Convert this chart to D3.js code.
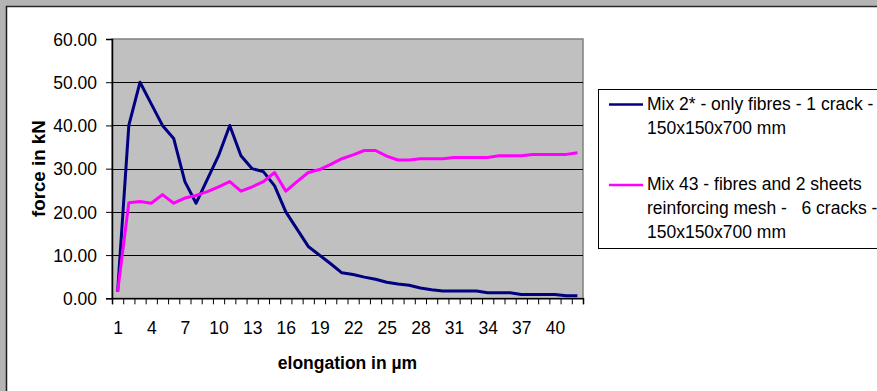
<!DOCTYPE html>
<html>
<head>
<meta charset="utf-8">
<script src="https://cdn.jsdelivr.net/npm/d3@7"></script>
<style>
  html, body { margin: 0; padding: 0; background: #b4b4b4; }
  svg { display: block; font-family: "Liberation Sans", Arial, sans-serif; }
</style>
</head>
<body>
<svg id="chart" width="877" height="391"></svg>
<script>
// Elongation steps (categories)
const categories = [1,2,3,4,5,6,7,8,9,10,11,12,13,14,15,16,17,18,19,20,21,
                    22,23,24,25,26,27,28,29,30,31,32,33,34,35,36,37,38,39,40,41,42];
// Labelled categories on the x axis
const xTickLabels = [1,4,7,10,13,16,19,22,25,28,31,34,37,40];
// Force values, kN
const yTicks = [0,10,20,30,40,50,60];

const mix2 = [1.5,40,50,45,40,37,27,22,27.5,33,40,33,30,29.3,26,20,16,12,10,8,5.9,
              5.5,4.9,4.4,3.7,3.3,3.0,2.4,2.0,1.7,1.7,1.7,1.7,1.3,1.3,1.3,0.9,0.9,0.9,0.9,0.6,0.6];
const mix43 = [1.5,22.1,22.4,22,24,22,23.2,23.8,24.7,25.8,27,24.8,25.8,27,29.1,24.8,27,29.1,29.8,31,32.3,
               33.2,34.2,34.2,32.9,32,32,32.3,32.3,32.3,32.6,32.6,32.6,32.6,33,33,33,33.3,33.3,33.3,33.3,33.7];

const seriesNames = [
  ["Mix 2* - only fibres - 1 crack -", "150x150x700 mm"],
  ["Mix 43 - fibres and 2 sheets", "reinforcing mesh -   6 cracks -", "150x150x700 mm"]
];
const seriesColors = ["#000080", "#ff00ff"];

const FONT = 17.5;   // text size
const STRETCH = 1.07; // glyphs are drawn slightly taller than wide

const svg = d3.select("#chart");

// white chart area inside the grey window frame
svg.append("rect").attr("x", 6).attr("y", 6).attr("width", 877).attr("height", 391)
  .attr("fill", "#ffffff");
svg.append("line").attr("x1", 6).attr("x2", 877).attr("y1", 6.5).attr("y2", 6.5)
  .attr("stroke", "#2a2a2a").attr("stroke-width", 1.5);
svg.append("line").attr("x1", 6.5).attr("x2", 6.5).attr("y1", 6).attr("y2", 391)
  .attr("stroke", "#1a1a1a").attr("stroke-width", 1.5);

const plot = { left: 112, right: 583, top: 39, bottom: 298.3 };

const x = d3.scaleLinear().domain([categories[0] - 0.5, categories[categories.length - 1] + 0.5])
  .range([plot.left, plot.right]);
const y = d3.scaleLinear().domain([0, 60]).range([plot.bottom, plot.top]);

// plot area
svg.append("rect")
  .attr("x", plot.left).attr("y", plot.top)
  .attr("width", plot.right - plot.left).attr("height", plot.bottom - plot.top)
  .attr("fill", "#c0c0c0").attr("stroke", "#808080").attr("stroke-width", 1.5);

// horizontal gridlines
svg.append("g").selectAll("line").data(yTicks.filter(d => d > 0 && d < 60)).join("line")
  .attr("x1", plot.left).attr("x2", plot.right)
  .attr("y1", d => Math.round(y(d)) + 0.5).attr("y2", d => Math.round(y(d)) + 0.5)
  .attr("stroke", "#000").attr("stroke-width", 1);

// y axis
const yAxis = svg.append("g").attr("transform", `translate(${plot.left},0)`)
  .call(d3.axisLeft(y).tickValues(yTicks).tickFormat(d3.format(".2f")).tickSize(6).tickPadding(9));
yAxis.select(".domain").attr("stroke", "#000").attr("stroke-width", 1.5);
yAxis.selectAll(".tick line").attr("stroke", "#000");
yAxis.selectAll(".tick text")
  .attr("font-size", FONT).attr("fill", "#000")
  .attr("font-family", "Liberation Sans, Arial, sans-serif")
  .attr("dy", "0.33em")
  .attr("transform", `scale(1,${STRETCH})`);

// x axis: tick marks between categories
const boundaries = categories.map(c => c - 0.5).concat([categories[categories.length - 1] + 0.5]);
const xAxisTicks = svg.append("g").attr("transform", `translate(0,${plot.bottom})`)
  .call(d3.axisBottom(x).tickValues(boundaries).tickFormat("").tickSize(6));
xAxisTicks.select(".domain").attr("stroke", "#000").attr("stroke-width", 1.5);
xAxisTicks.selectAll(".tick line").attr("stroke", "#000");

// x axis: category labels
const xAxisLabels = svg.append("g").attr("transform", `translate(0,${plot.bottom})`)
  .call(d3.axisBottom(x).tickValues(xTickLabels).tickFormat(d3.format("d")).tickSize(0));
xAxisLabels.select(".domain").remove();
xAxisLabels.selectAll(".tick text")
  .attr("font-size", FONT).attr("fill", "#000")
  .attr("font-family", "Liberation Sans, Arial, sans-serif")
  .attr("dy", null).attr("y", 35.8 / STRETCH)
  .attr("transform", `scale(1,${STRETCH})`);

// axis titles
svg.append("text")
  .attr("transform", `translate(${(plot.left + plot.right) / 2},368.5) scale(1,${STRETCH})`)
  .attr("text-anchor", "middle").attr("font-weight", "bold").attr("font-size", FONT)
  .text("elongation in µm");
svg.append("text")
  .attr("transform", `translate(45,${(plot.top + plot.bottom) / 2}) rotate(-90) scale(${STRETCH},1)`)
  .attr("text-anchor", "middle").attr("font-weight", "bold").attr("font-size", FONT)
  .text("force in kN");

// series lines
const line = d3.line().x((d, i) => x(categories[i])).y(d => y(d));
[mix2, mix43].forEach((s, k) => {
  svg.append("path").datum(s)
    .attr("d", line)
    .attr("fill", "none")
    .attr("stroke", seriesColors[k])
    .attr("stroke-width", 3)
    .attr("stroke-linejoin", "round");
});

// legend
const legend = svg.append("g");
legend.append("rect").attr("x", 598.5).attr("y", 89.5).attr("width", 300).attr("height", 159)
  .attr("fill", "#fff").attr("stroke", "#000").attr("stroke-width", 1);
const legendRows = [{ y: 104.5, base: 109.5 }, { y: 185, base: 189.5 }];
seriesNames.forEach((lines, k) => {
  legend.append("line")
    .attr("x1", 609).attr("x2", 643)
    .attr("y1", legendRows[k].y).attr("y2", legendRows[k].y)
    .attr("stroke", seriesColors[k]).attr("stroke-width", 2.5);
  lines.forEach((t, j) => {
    legend.append("text")
      .attr("transform", `translate(647,${legendRows[k].base + j * 24}) scale(1,${STRETCH})`)
      .attr("font-size", FONT).attr("fill", "#000")
      .attr("xml:space", "preserve").style("white-space", "pre")
      .text(t);
  });
});
</script>
</body>
</html>
